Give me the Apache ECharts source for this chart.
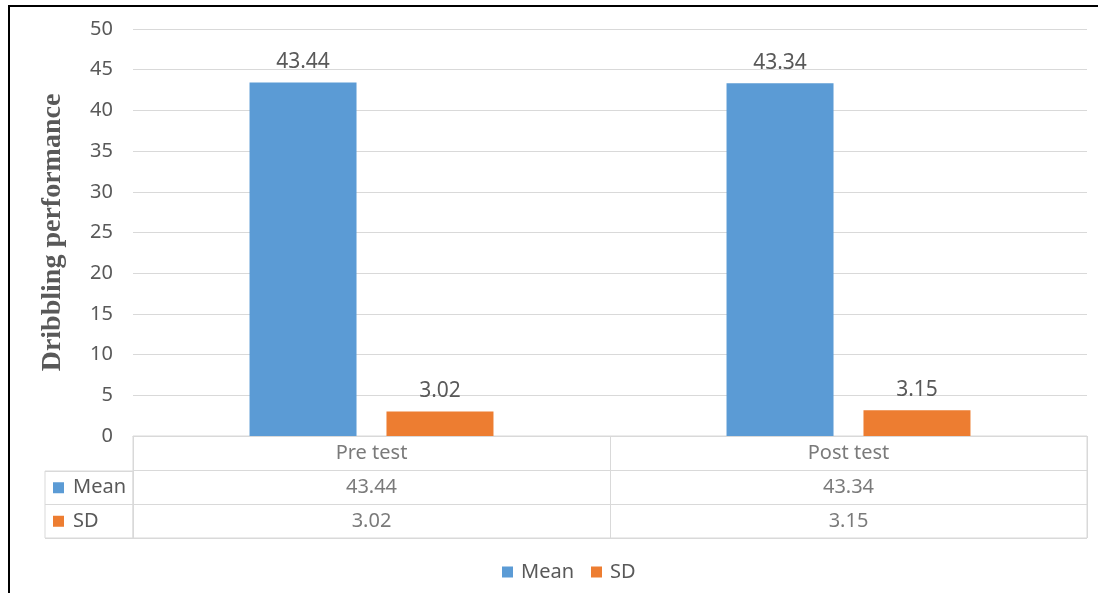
<!DOCTYPE html>
<html>
<head>
<meta charset="utf-8">
<script src="https://cdn.jsdelivr.net/npm/echarts@6/dist/echarts.min.js"></script>
<style>
html,body{margin:0;padding:0;background:#fff;}
#chart{width:1098px;height:593px;}
#frame{position:absolute;left:8px;top:5px;right:0;bottom:0;border-left:2px solid #000;border-top:2px solid #000;pointer-events:none;}
</style>
</head>
<body>
<div id="chart"></div>
<div id="frame"></div>
<script>
const categories = ['Pre test', 'Post test'];
const meanValues = [43.44, 43.34];
const sdValues = [3.02, 3.15];
const seriesNames = ['Mean', 'SD'];
const yTicks = { min: 0, max: 50, interval: 5 };
const yTitle = 'Dribbling performance';

const BLUE = '#5B9BD5', ORANGE = '#ED7D31', GRID = '#D9D9D9', TXT = '#595959';
const FONT = '"Noto Sans", sans-serif';

const chart = echarts.init(document.getElementById('chart'));

const tableRows = ['', seriesNames[0], seriesNames[1]];
const headerData = categories.map((c, i) => [i, 0, c]);
const meanCells = meanValues.map((v, i) => [i, 1, v.toFixed(2)]);
const sdCells = sdValues.map((v, i) => [i, 2, v.toFixed(2)]);

function cellSeries(name, data) {
  return {
    name: name, type: 'scatter', xAxisIndex: 1, yAxisIndex: 1,
    data: data, symbolSize: 1, itemStyle: { color: 'rgba(0,0,0,0)' },
    silent: true,
    label: { show: true, position: 'inside', formatter: p => p.value[2],
      color: TXT, fontSize: 20, fontFamily: FONT }
  };
}

chart.setOption({
  animation: false,
  textStyle: { fontFamily: FONT },
  grid: [
    { left: 133, right: 11, top: 29, bottom: 157 },
    { left: 133, right: 11, top: 436, height: 102, show: true, borderColor: GRID, borderWidth: 1 },
    { left: 45, width: 88, top: 471, height: 67, show: true, borderColor: GRID, borderWidth: 1 }
  ],
  legend: {
    data: seriesNames, left: 497, top: 557, icon: 'rect', itemWidth: 11, itemHeight: 11,
    itemGap: 17, textStyle: { color: TXT, fontSize: 20, fontFamily: FONT, padding: [0, 0, 0, 3] }
  },
  xAxis: [
    { type: 'category', gridIndex: 0, data: categories,
      axisLine: { show: true, lineStyle: { color: GRID } }, axisTick: { show: false },
      axisLabel: { show: false } },
    { type: 'category', gridIndex: 1, data: categories,
      axisLine: { show: false }, axisTick: { show: false }, axisLabel: { show: false },
      splitLine: { show: true, lineStyle: { color: GRID } } },
    { type: 'value', gridIndex: 2, min: 0, max: 1, show: false }
  ],
  yAxis: [
    { type: 'value', gridIndex: 0, min: yTicks.min, max: yTicks.max, interval: yTicks.interval,
      axisLine: { show: false }, axisTick: { show: false },
      axisLabel: { color: TXT, fontSize: 20, margin: 20, fontFamily: FONT },
      splitLine: { lineStyle: { color: GRID } },
      name: yTitle, nameLocation: 'middle', nameGap: 66,
      nameTextStyle: { fontFamily: '"Liberation Serif", "Times New Roman", serif', fontWeight: 'bold',
        fontSize: 28, color: TXT } },
    { type: 'category', gridIndex: 1, data: tableRows, inverse: true,
      axisLine: { show: false }, axisTick: { show: false }, axisLabel: { show: false },
      splitLine: { show: true, lineStyle: { color: GRID } } },
    { type: 'category', gridIndex: 2, data: seriesNames, inverse: true,
      axisLine: { show: false }, axisTick: { show: false },
      splitLine: { show: true, lineStyle: { color: GRID } },
      axisLabel: { inside: true, margin: 8, align: 'left',
        formatter: (v, i) => (i === 0 ? '{a| }' : '{b| }') + '{t|' + v + '}',
        rich: {
          a: { width: 11, height: 11, backgroundColor: BLUE },
          b: { width: 11, height: 11, backgroundColor: ORANGE },
          t: { color: TXT, fontSize: 20, fontFamily: FONT, padding: [0, 0, 0, 9] }
        } } }
  ],
  series: [
    { name: seriesNames[0], type: 'bar', data: meanValues, barWidth: 107, barGap: '28%',
      itemStyle: { color: BLUE },
      label: { show: true, position: 'top', distance: 10, color: TXT, fontSize: 21, fontFamily: FONT,
        formatter: p => p.value.toFixed(2) } },
    { name: seriesNames[1], type: 'bar', data: sdValues, barWidth: 107,
      itemStyle: { color: ORANGE },
      label: { show: true, position: 'top', distance: 10, color: TXT, fontSize: 21, fontFamily: FONT,
        formatter: p => p.value.toFixed(2) } },
    cellSeries('tableHeader', headerData),
    cellSeries('tableMean', meanCells),
    cellSeries('tableSD', sdCells)
  ]
});
</script>
</body>
</html>
